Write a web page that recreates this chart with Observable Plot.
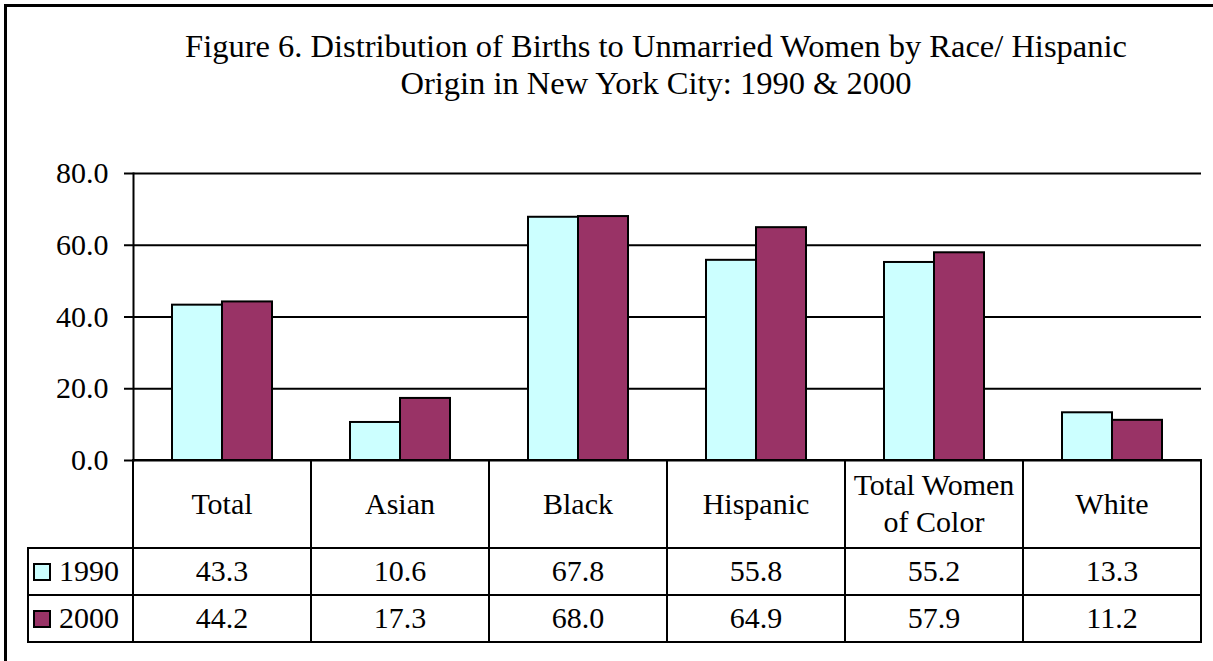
<!DOCTYPE html>
<html><head><meta charset="utf-8">
<script src="https://cdn.jsdelivr.net/npm/d3@7"></script>
<script src="https://cdn.jsdelivr.net/npm/@observablehq/plot@0.6"></script>
<style>
html,body{margin:0;padding:0;background:#fff;}
#root{position:relative;width:1213px;height:661px;overflow:hidden;font-family:"Liberation Serif","Times New Roman",serif;color:#000;}
#frame{position:absolute;left:4px;top:4px;width:1400px;height:800px;border-left:3px solid #000;border-top:3px solid #000;}
#title{position:absolute;left:0;width:1312px;top:28px;text-align:center;font-size:32.5px;line-height:37px;}
#chart{position:absolute;left:0;top:150px;}
.cell{position:absolute;box-sizing:border-box;border:2px solid #000;display:flex;align-items:center;justify-content:center;text-align:center;font-size:30px;line-height:1.22;white-space:pre;}
.swatch{display:inline-block;box-sizing:border-box;width:18px;height:18px;border:2px solid #000;margin-right:8px;}
</style></head><body>
<div id="root">
  <div id="frame"></div>
  <div id="title">Figure 6. Distribution of Births to Unmarried Women by Race/ Hispanic<br>Origin in New York City: 1990 &amp; 2000</div>
  <div id="chart"></div>
</div>
<script>
const categories = ["Total","Asian","Black","Hispanic","Total Women of Color","White"];
const headerLabels = ["Total","Asian","Black","Hispanic","Total Women\nof Color","White"];
const years = ["1990","2000"];
const values1990 = [43.3,10.6,67.8,55.8,55.2,13.3];
const values2000 = [44.2,17.3,68.0,64.9,57.9,11.2];
const colors = ["#CCFFFF","#993366"];
const yTicks = [0,20,40,60,80];

const seriesValues = {"1990": values1990, "2000": values2000};
const data = categories.flatMap((c,i)=>years.map(y=>({category:c, year:y, value:seriesValues[y][i]})));
const fmt = d3.format(".1f");

const chartTop = 150;
const chart = Plot.plot({
  width:1213, height:313, marginLeft:132, marginRight:11, marginTop:23, marginBottom:3,
  style:{fontFamily:"Liberation Serif, Times New Roman, serif", fontSize:"30px", background:"transparent", color:"#000", overflow:"visible"},
  fx:{domain:categories, paddingInner:0, paddingOuter:0, axis:null, label:null},
  x:{domain:years, paddingInner:0, paddingOuter:0.75, axis:null},
  y:{domain:[0,80], axis:null, label:null},
  color:{domain:years, range:colors},
  marks:[
    Plot.ruleY(yTicks, {stroke:"#000", strokeWidth:2}),
    Plot.barY(data, {fx:"category", x:"year", y:"value", fill:"year", stroke:"#000", strokeWidth:2, inset:0}),
    Plot.frame({anchor:"left", facetAnchor:"left", stroke:"#000", strokeWidth:2}),
    Plot.axisY(yTicks, {facetAnchor:"left", label:null, tickSize:9, tickPadding:16, tickFormat:fmt, fontSize:30, stroke:"#000", strokeWidth:2, strokeOpacity:1, fill:"#000"})
  ]
});
document.getElementById("chart").appendChild(chart);

// Data table below the plot, aligned with the library's scales
const fx = chart.scale("fx");
const ys = chart.scale("y");
const root = document.getElementById("root");
const colX = categories.map(c => fx.apply(c));
colX.push(colX[colX.length-1] + fx.bandwidth);
const legendLeft = 28;
const y0 = chartTop + ys.apply(0);
const rowY = [y0, y0 + 88, y0 + 135, y0 + 182];

function cell(x1, x2, y1, y2, content, justify) {
  const d = document.createElement("div");
  d.className = "cell";
  d.style.left = (x1 - 1) + "px";
  d.style.top = (y1 - 1) + "px";
  d.style.width = (x2 - x1 + 2) + "px";
  d.style.height = (y2 - y1 + 2) + "px";
  if (justify) { d.style.justifyContent = justify; d.style.paddingLeft = "4px"; }
  if (typeof content === "string") d.textContent = content; else d.appendChild(content);
  root.appendChild(d);
}
headerLabels.forEach((lab, i) => cell(colX[i], colX[i+1], rowY[0], rowY[1], lab));
years.forEach((yr, r) => {
  const frag = document.createElement("span");
  const sw = document.createElement("span");
  sw.className = "swatch"; sw.style.background = colors[r];
  frag.appendChild(sw);
  frag.appendChild(document.createTextNode(yr));
  frag.style.display = "flex"; frag.style.alignItems = "center";
  cell(legendLeft, colX[0], rowY[r+1], rowY[r+2], frag, "flex-start");
  seriesValues[yr].forEach((v, i) => cell(colX[i], colX[i+1], rowY[r+1], rowY[r+2], fmt(v)));
});
</script>
</body></html>
